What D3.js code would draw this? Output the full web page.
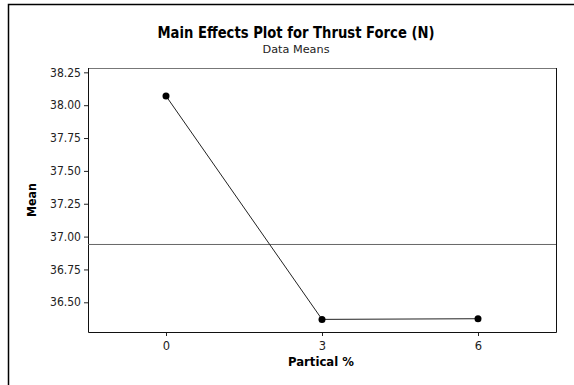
<!DOCTYPE html>
<html>
<head>
<meta charset="utf-8">
<script src="https://cdn.jsdelivr.net/npm/d3@7"></script>
<style>
  body { margin: 0; background: #fff; }
  svg { display: block; font-family: "DejaVu Sans", Verdana, sans-serif; }
</style>
</head>
<body>
<div id="chart"></div>
<script>
// data
const levels = [0, 3, 6];
const means = [38.07, 36.37, 36.375];
const grandMean = 36.94;
const yTicks = [36.50, 36.75, 37.00, 37.25, 37.50, 37.75, 38.00, 38.25];

const width = 574,
  height = 385;

// plot box
const plotLeft = 88, plotRight = 556, plotTop = 68, plotBottom = 332;

const svg = d3.select("#chart")
  .append("svg")
  .attr("width", width)
  .attr("height", height);

// outer frame (only top + left show in the picture)
svg.append("path")
  .attr("d", `M8.5,${height} V4.5 H${width}`)
  .attr("fill", "none")
  .attr("stroke", "#000")
  .attr("stroke-width", 1.5);

const x = d3.scaleLinear().domain([-1.5, 7.5]).range([plotLeft, plotRight]);
const y = d3.scaleLinear().domain([36.274, 38.283]).range([plotBottom, plotTop]);

// title
svg.append("text")
  .attr("x", 296).attr("y", 38)
  .attr("text-anchor", "middle")
  .attr("font-size", 15)
  .attr("font-weight", "bold")
  .attr("textLength", 277)
  .attr("lengthAdjust", "spacingAndGlyphs")
  .text("Main Effects Plot for Thrust Force (N)");

svg.append("text")
  .attr("x", 296).attr("y", 53)
  .attr("text-anchor", "middle")
  .attr("font-size", 11)
  .attr("fill", "#222")
  .attr("textLength", 67)
  .attr("lengthAdjust", "spacingAndGlyphs")
  .text("Data Means");

// axes
const yAxis = svg.append("g")
  .attr("transform", `translate(${plotLeft},0)`)
  .call(d3.axisLeft(y).tickValues(yTicks).tickFormat(d3.format(".2f")).tickSize(4).tickPadding(3));

const xAxis = svg.append("g")
  .attr("transform", `translate(0,${plotBottom})`)
  .call(d3.axisBottom(x).tickValues(levels).tickFormat(d3.format("d")).tickSize(4).tickPadding(6));

[yAxis, xAxis].forEach(a => {
  a.select(".domain").remove();
  a.selectAll("text").attr("font-size", 11.5).attr("fill", "#222")
    .attr("font-family", "DejaVu Sans, sans-serif");
  a.selectAll("line").attr("stroke", "#222");
});
yAxis.selectAll("text").attr("textLength", 31).attr("lengthAdjust", "spacingAndGlyphs");

// plot frame
svg.append("line")
  .attr("x1", plotLeft).attr("x2", plotRight).attr("y1", plotTop + 0.5).attr("y2", plotTop + 0.5)
  .attr("stroke", "#777");
svg.append("path")
  .attr("d", `M${plotLeft + 0.5},${plotTop} V${plotBottom + 0.5} H${plotRight + 0.5} V${plotTop}`)
  .attr("fill", "none")
  .attr("stroke", "#111");

// grand mean reference line
svg.append("line")
  .attr("x1", plotLeft).attr("x2", plotRight)
  .attr("y1", y(grandMean)).attr("y2", y(grandMean))
  .attr("stroke", "#666");

// means line + points
const line = d3.line().x((d, i) => x(levels[i])).y(d => y(d));
svg.append("path")
  .datum(means)
  .attr("d", line)
  .attr("fill", "none")
  .attr("stroke", "#222")
  .attr("stroke-width", 1);

svg.append("g")
  .selectAll("circle")
  .data(means)
  .join("circle")
  .attr("cx", (d, i) => x(levels[i]))
  .attr("cy", d => y(d))
  .attr("r", 3.5)
  .attr("fill", "#000");

// axis labels
svg.append("text")
  .attr("x", 321).attr("y", 366)
  .attr("text-anchor", "middle")
  .attr("font-size", 12.5)
  .attr("font-weight", "bold")
  .attr("textLength", 66)
  .attr("lengthAdjust", "spacingAndGlyphs")
  .text("Partical %");

svg.append("text")
  .attr("transform", "translate(36,200) rotate(-90)")
  .attr("text-anchor", "middle")
  .attr("font-size", 12.5)
  .attr("font-weight", "bold")
  .attr("textLength", 34)
  .attr("lengthAdjust", "spacingAndGlyphs")
  .text("Mean");
</script>
</body>
</html>
